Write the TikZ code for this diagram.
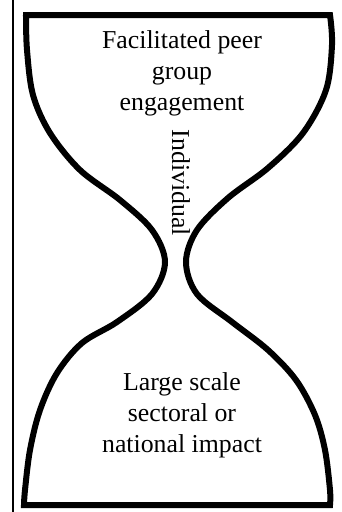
\documentclass[tikz,border=0pt]{standalone}
\usepackage{fontspec}
\setmainfont{Liberation Serif}
\begin{document}
\begin{tikzpicture}[x=1pt,y=-1pt,
  glass/.style={line width=6pt,line join=miter,black},
  frameline/.style={line width=1.6pt,black},
  label/.style={align=center,inner sep=0pt,font=\fontsize{25.8}{31}\selectfont}]
\useasboundingbox (0,0) rectangle (341,512);
\draw[frameline] (13,0) -- (13,512);
\draw[glass] (26,15) -- (330,15)
  -- plot[smooth,tension=0.55] coordinates {(330,15) (332,45) (326,90) (303,133) (268,168) (228,198) (197,230) (186,262) (197,294) (232,322) (268,350) (296,380) (315,415) (325,450) (330,490) (330,505)}
  -- (24,505)
  -- plot[smooth,tension=0.55] coordinates {(24,505) (25,490) (30,450) (40,410) (57,373) (82,343) (117,322) (152,294) (165,262) (152,230) (120,200) (80,170) (50,133) (33,95) (27,50) (26,15)}
  -- cycle;
\node[label,anchor=base] (top) at (182,110) {Facilitated peer\\group\\engagement};
\node[label,anchor=base] (bottom) at (182,452) {Large scale\\sectoral or\\national impact};
\node[label,anchor=base,rotate=-90] (ind) at (172,183) {Individual};
\end{tikzpicture}
\end{document}
